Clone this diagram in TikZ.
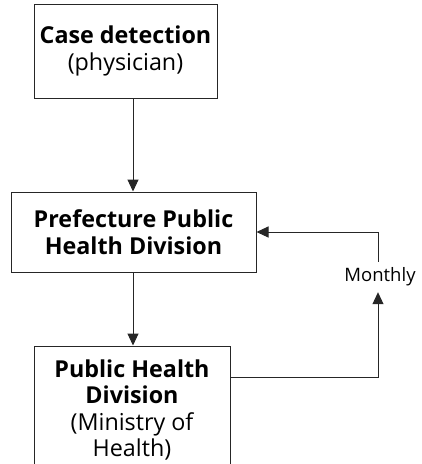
\documentclass[tikz,border=0pt]{standalone}
\usepackage{fontspec}
\setmainfont{Open Sans}
\usetikzlibrary{arrows.meta}
\begin{document}
\begin{tikzpicture}[x=1pt,y=-1pt,
  box/.style={draw=black!85,line width=1pt,rectangle,align=center,inner sep=0pt,
    font=\fontsize{23.3}{26.5}\selectfont},
  conn/.style={draw=black!85,line width=1pt},
  arr/.style={conn,-{Triangle[length=12pt,width=11pt]}}]
\useasboundingbox (0,0) rectangle (422,464);
\node[box,minimum width=183pt,minimum height=94pt] (b1) at (125.5,51)
  {\textbf{Case detection}\\(physician)};
\node[box,minimum width=245pt,minimum height=80pt] (b2) at (133.5,232)
  {\textbf{Prefecture Public}\\\textbf{Health Division}};
\node[box,minimum width=196pt,minimum height=128pt] (b3) at (132,410)
  {\textbf{Public Health}\\\textbf{Division}\\(Ministry of\\Health)};
\node[font=\fontsize{18.5}{20}\selectfont,inner sep=0pt,minimum height=30pt] (m) at (380,277) {Monthly};
\coordinate (ax) at (133,0);
\coordinate (c1) at (378,377);
\coordinate (c2) at (378,232);
\draw[arr] (b1.south -| ax) -- (b2.north -| ax);
\draw[arr] (b2.south -| ax) -- (b3.north -| ax);
\draw[arr] (b3.east |- c1) -- (c1) -- (m.south -| c1);
\draw[arr] (m.north -| c2) -- (c2) -- (b2.east);
\end{tikzpicture}
\end{document}
